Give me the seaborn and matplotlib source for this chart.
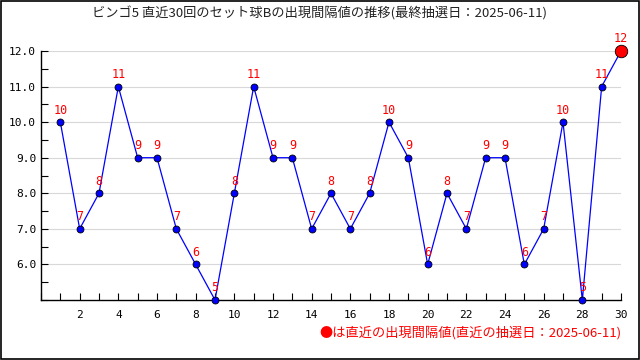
import matplotlib
matplotlib.use("Agg")
import matplotlib.pyplot as plt
import seaborn as sns
import pandas as pd
from matplotlib.ticker import MultipleLocator
from matplotlib.patches import Rectangle

rounds = list(range(1, 31))
values = [10, 7, 8, 11, 9, 9, 7, 6, 5, 8, 11, 9, 9, 7, 8, 7, 8, 10, 9, 6, 8, 7, 9, 9, 6, 7, 10, 5, 11, 12]
xticks = list(range(2, 31, 2))
yticks = [6, 7, 8, 9, 10, 11, 12]
title = "ビンゴ5 直近30回のセット球Bの出現間隔値の推移(最終抽選日：2025-06-11)"
note = "●は直近の出現間隔値(直近の抽選日：2025-06-11)"

sns.set_theme(style="white")
plt.rcParams['font.family'] = ['Noto Sans CJK JP', 'DejaVu Sans']

df = pd.DataFrame({"round": rounds, "value": values})

fig = plt.figure(figsize=(6.4, 3.6), dpi=100)
ax = fig.add_axes([41/640, 1 - 300/360, (621-41)/640, (300-51)/360])

ax.yaxis.grid(True, color="#d8d8d8", linewidth=0.8)
ax.set_axisbelow(True)

sns.lineplot(data=df, x="round", y="value", ax=ax, color="#0000ff", linewidth=0.9,
             marker="o", markersize=5, markerfacecolor="#0000ff", markeredgecolor="black",
             markeredgewidth=0.6, zorder=3, clip_on=False)
ax.plot(df["round"].iloc[-1], df["value"].iloc[-1], marker="o", markersize=9,
        markerfacecolor="#ff0000", markeredgecolor="black", markeredgewidth=0.6,
        linestyle="none", zorder=4, clip_on=False)

for r, v in zip(rounds, values):
    ax.annotate(str(v), (r, v), xytext=(0, 4), textcoords="offset points",
                ha="center", va="bottom", color="#ff0000", fontsize=8.5,
                family=['DejaVu Sans Mono', 'DejaVu Sans'], zorder=5)

ax.set_xlim(0, 30)
ax.set_ylim(5, 12)
ax.set_xticks(xticks)
ax.set_xticklabels([str(t) for t in xticks])
ax.xaxis.set_minor_locator(MultipleLocator(1))
ax.set_yticks(yticks)
ax.set_yticklabels([f"{t:.1f}" for t in yticks])
ax.yaxis.set_minor_locator(MultipleLocator(0.5))
ax.tick_params(axis="both", which="both", direction="in", length=5, width=0.8,
               color="black", labelsize=8, labelcolor="black",
               bottom=True, left=True, top=False, right=False)
ax.tick_params(axis="x", pad=7)
for lbl in ax.get_xticklabels() + ax.get_yticklabels():
    lbl.set_family(['DejaVu Sans Mono', 'DejaVu Sans'])
ax.set_xlabel("")
ax.set_ylabel("")
for s in ["top", "right"]:
    ax.spines[s].set_visible(False)
for s in ["left", "bottom"]:
    ax.spines[s].set_color("black")
    ax.spines[s].set_linewidth(1.0)

fig.text(0.5, 1 - 13/360, title, ha="center", va="center", fontsize=9.5, color="#222222")
fig.text(621/640, 1 - 333/360, note, ha="right", va="center", fontsize=9.5, color="#ff0000")

fig.patches.append(Rectangle((0.001, 0.002), 0.997, 0.995, transform=fig.transFigure,
                             fill=False, edgecolor="black", linewidth=1.2))

fig.savefig("out.png", dpi=100)
